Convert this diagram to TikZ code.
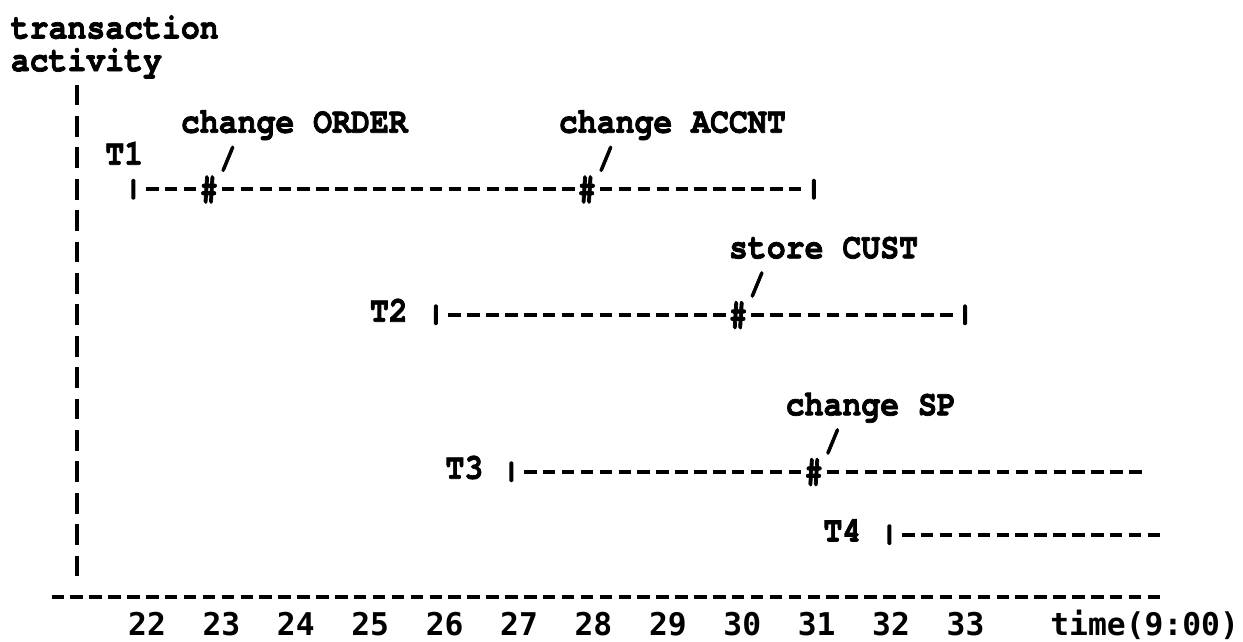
\documentclass[tikz,border=0pt]{standalone}
\usepackage{fontspec}
\newfontfamily\typefont{texgyrecursor-bold.otf}[FakeBold=2, FakeStretch=0.875]
\newfontfamily\numfont{DejaVu Sans Mono}[UprightFont=* Bold]
\begin{document}
% one unit in x = one typewriter column, one unit in y = one typed line
\begin{tikzpicture}[x=14.175pt, y=-23.55pt,
  lbl/.style={anchor=base west, inner sep=0pt,
    font=\typefont\fontsize{27pt}{30pt}\selectfont},
  slash/.style={anchor=base, inner sep=0pt,
    font=\typefont\fontsize{24pt}{30pt}\selectfont},
  numlbl/.style={anchor=base, inner sep=0pt,
    font=\numfont\fontsize{23.5pt}{28pt}\selectfont},
  tick/.style={fill=black, minimum width=3pt, minimum height=15.5pt,
    inner sep=0pt, outer xsep=5.5875pt, outer ysep=0pt, rounded corners=1pt},
  hash/.style={inner sep=0pt, text height=16.2pt, text depth=0pt,
    font=\typefont\fontsize{27pt}{30pt}\selectfont},
  typedash/.style={line width=3pt, dash pattern=on 9.4pt off 4.775pt,
    dash phase=11.79pt},
  axisdash/.style={line width=3pt, dash pattern=on 15.5pt off 8.05pt}]
\useasboundingbox (-1.0582,-1.0255) rectangle (64.709,19.420);

% vertical axis label and axis
\node[lbl] (ylab1) at (-0.5,0.2) {transaction};
\node[lbl] (ylab2) at (-0.5,1.24) {activity};
\coordinate (ya) at (3,1.671);
\coordinate (yb) at (3,17.329);
\draw[axisdash] (ya) -- (yb);

% transaction T1
\node[lbl] (c1lab) at (8.5,3.2) {change ORDER};
\node[lbl] (c2lab) at (28.5,3.2) {change ACCNT};
\node[lbl] (t1) at (4.5,4.22) {T1};
\node[slash] (sl1) at (11,4.33) {/};
\node[slash] (sl2) at (31,4.33) {/};
\node[tick] (t1s) at (6,5) {};
\node[hash] (h1) at (10,5) {\#};
\node[hash] (h2) at (30,5) {\#};
\node[tick] (t1e) at (42,5) {};
\draw[typedash] (t1s.east) -- (h1.west);
\draw[typedash] (h1.east) -- (h2.west);
\draw[typedash] (h2.east) -- (t1e.west);

% transaction T2
\node[lbl] (c3lab) at (37.5,7.2) {store CUST};
\node[slash] (sl3) at (39,8.33) {/};
\node[lbl] (t2) at (18.5,9.22) {T2};
\node[tick] (t2s) at (22,9) {};
\node[hash] (h3) at (38,9) {\#};
\node[tick] (t2e) at (50,9) {};
\draw[typedash] (t2s.east) -- (h3.west);
\draw[typedash] (h3.east) -- (t2e.west);

% transaction T3
\node[lbl] (c4lab) at (40.5,12.2) {change SP};
\node[slash] (sl4) at (43,13.33) {/};
\node[lbl] (t3) at (22.5,14.22) {T3};
\node[tick] (t3s) at (26,14) {};
\node[hash] (h4) at (42,14) {\#};
\coordinate (t3e) at (59.5,14);
\draw[typedash] (t3s.east) -- (h4.west);
\draw[typedash] (h4.east) -- (t3e);

% transaction T4
\node[lbl] (t4) at (42.5,16.22) {T4};
\node[tick] (t4s) at (46,16) {};
\coordinate (t4e) at (60.5,16);
\draw[typedash] (t4s.east) -- (t4e);

% time axis
\coordinate (xa) at (1.5,18);
\coordinate (xb) at (60.5,18);
\draw[typedash] (xa) -- (xb);
\foreach \n [count=\i from 0] in {22,...,33}
  \node[numlbl] (n\n) at ({6.72+3.937*\i},19.2) {\n};
\node[lbl, font=\numfont\fontsize{23.5pt}{28pt}\selectfont] (tlab) at (54.5,19.2) {time(9:00)};
\end{tikzpicture}
\end{document}
